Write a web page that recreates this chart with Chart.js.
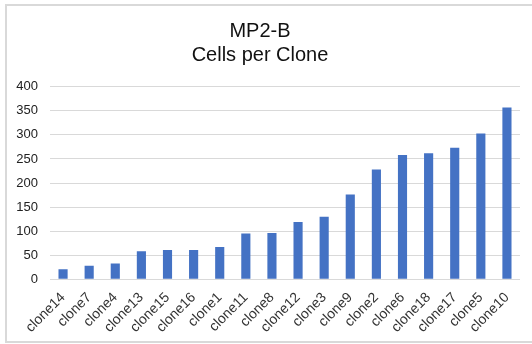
<!DOCTYPE html>
<html>
<head>
<meta charset="utf-8">
<script src="https://cdn.jsdelivr.net/npm/chart.js@4/dist/chart.umd.min.js"></script>
<style>
  html, body { margin: 0; padding: 0; background: #fff; }
  #wrap { position: relative; width: 532px; height: 344px; }
  canvas { display: block; }
</style>
</head>
<body>
<div id="wrap"><canvas id="c" width="532" height="344"></canvas></div>
<script>
// Clone names, sorted by cell count
const clones = ['clone14','clone7','clone4','clone13','clone15','clone16','clone1','clone11','clone8',
                'clone12','clone3','clone9','clone2','clone6','clone18','clone17','clone5','clone10'];
// Number of cells in each clone
const cellCounts = [21, 28, 33, 58, 61, 61, 67, 95, 96, 119, 130, 176, 228, 258, 262, 273, 303, 357];
// Value axis range
const yMin = 0, yMax = 400, yStep = 50;

const fontFamily = '"Liberation Sans", Arial, Helvetica, sans-serif';

// Light frame around the chart (open on the right edge)
const framePlugin = {
  id: 'frame',
  beforeDraw(chart) {
    const ctx = chart.ctx;
    ctx.save();
    ctx.fillStyle = '#fff';
    ctx.fillRect(0, 0, chart.width, chart.height);
    ctx.strokeStyle = '#d9d9d9';
    ctx.lineWidth = 2;
    ctx.strokeRect(6, 5, chart.width + 10, 337);
    ctx.restore();
  }
};

new Chart(document.getElementById('c'), {
  type: 'bar',
  data: {
    labels: clones,
    datasets: [{
      data: cellCounts,
      backgroundColor: '#4472C4',
      borderWidth: 0,
      barPercentage: 1,
      categoryPercentage: 0.35
    }]
  },
  options: {
    responsive: false,
    animation: false,
    layout: { padding: { left: 0, right: 12, top: 0, bottom: 0 } },
    plugins: {
      legend: { display: false },
      tooltip: { enabled: false },
      title: {
        display: true,
        text: ['MP2-B', 'Cells per Clone'],
        color: '#111',
        font: { family: fontFamily, size: 20, weight: 'normal', lineHeight: 1.2 },
        padding: { top: 19, bottom: 19.7 }
      }
    },
    scales: {
      x: {
        grid: { display: false },
        border: { display: false },
        afterFit(scale) {
          scale.height = 64.7;
          scale.paddingLeft = 0;
        },
        ticks: {
          color: '#333',
          font: { family: fontFamily, size: 14 },
          maxRotation: 45,
          minRotation: 45,
          autoSkip: false,
          padding: 2
        }
      },
      y: {
        min: yMin,
        max: yMax,
        afterFit(scale) {
          scale.width = 50;
        },
        grid: { color: '#d9d9d9', lineWidth: 1, drawTicks: false },
        border: { display: false },
        ticks: {
          stepSize: yStep,
          color: '#222',
          font: { family: fontFamily, size: 13 },
          padding: 12
        }
      }
    }
  },
  plugins: [framePlugin]
});
</script>
</body>
</html>
